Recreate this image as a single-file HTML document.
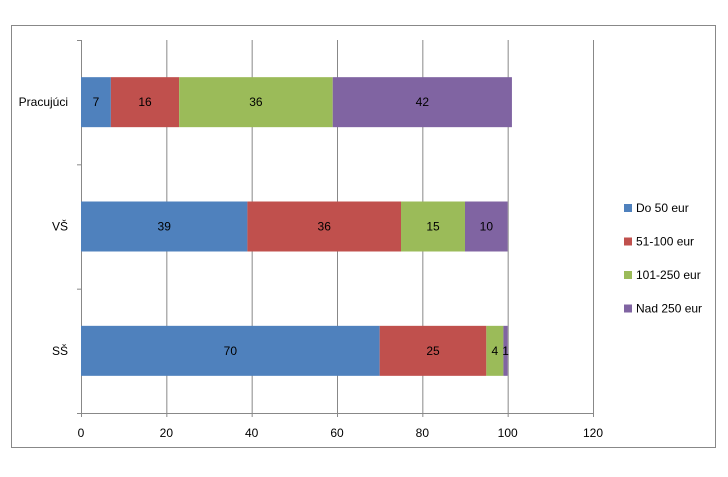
<!DOCTYPE html>
<html><head><meta charset="utf-8"><style>
body{margin:0;background:#fff;font-family:"Liberation Sans",sans-serif;}
svg text{font-family:"Liberation Sans",sans-serif;font-size:12px;fill:#000;}
</style></head><body>
<svg id="c" width="728" height="472">
<rect x="11.5" y="25.5" width="704" height="422" fill="#fff" stroke="#888"/>
</svg>
<script>
const categories=["Pracujúci","VŠ","SŠ"];
const seriesNames=["Do 50 eur","51-100 eur","101-250 eur","Nad 250 eur"];
const colors=["#4f81bd","#c0504d","#9bbb59","#8064a2"];
const s1=[7,39,70];
const s2=[16,36,25];
const s3=[36,15,4];
const s4=[42,10,1];
const xTicks=[0,20,40,60,80,100,120];
const series=[s1,s2,s3,s4];
const svg=document.getElementById('c');
const NS='http://www.w3.org/2000/svg';
const x0=81,x1=593,yTop=40,yBot=413;
const xs=v=>x0+(v-0)/(120-0)*(x1-x0);
const band=(yBot-yTop)/categories.length;
function mk(t,a,txt){const e=document.createElementNS(NS,t);for(const k in a)e.setAttribute(k,a[k]);if(txt!=null)e.textContent=txt;svg.appendChild(e);return e;}
xTicks.forEach(t=>{
 const g=mk('line',{x1:xs(t)+.5,x2:xs(t)+.5,y1:yTop,y2:yBot+4,stroke:'#888'});
 
 
 const l=mk('text',{x:xs(t),y:437,'text-anchor':'middle'},t);
 
 
});
const ax=mk('line',{x1:x0+.5,x2:x0+.5,y1:yTop,y2:yBot,stroke:'#888'});


const bx=mk('line',{x1:x0-4,x2:x1,y1:yBot+.5,y2:yBot+.5,stroke:'#888'});


for(let i=0;i<=categories.length;i++){
 const t=mk('line',{x1:x0-4,x2:x0,y1:yTop+i*band+.5,y2:yTop+i*band+.5,stroke:'#888'});
 
 
}
categories.forEach((c,i)=>{
 const cy=yTop+band*(i+.5);
 const l=mk('text',{x:68,y:cy+4,'text-anchor':'end'},c);
 
 
 let acc=0;
 series.forEach((s,j)=>{
  const v=s[i];
  const r=mk('rect',{x:xs(acc),y:cy-25,width:xs(acc+v)-xs(acc),height:50,fill:colors[j]});
  
  
  const tl=mk('text',{x:(xs(acc)+xs(acc+v))/2,y:cy+4,'text-anchor':'middle'},v);
  
  
  acc+=v;
 });
});
seriesNames.forEach((n,j)=>{
 const y=208+j*33.5;
 const r=mk('rect',{x:624,y:y-4,width:8,height:8,fill:colors[j]});
 
 
 const t=mk('text',{x:636,y:y+4},n);
 
 
});
</script>
</body></html>
